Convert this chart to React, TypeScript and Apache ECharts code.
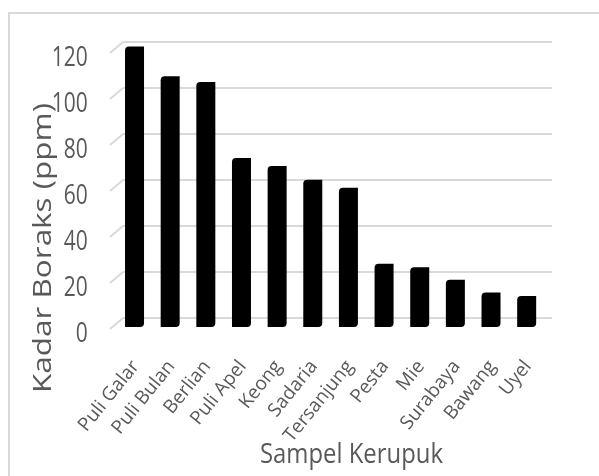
import React, { useEffect, useRef } from 'react';
import * as echarts from 'echarts';

const categories = ['Puli Galar', 'Puli Bulan', 'Berlian', 'Puli Apel', 'Keong', 'Sadaria', 'Tersanjung', 'Pesta', 'Mie', 'Surabaya', 'Bawang', 'Uyel'];
const values = [122, 109, 106.5, 73.5, 70, 64, 60.5, 27.5, 26, 20.5, 15, 13.5];
const yTicks = [0, 20, 40, 60, 80, 100, 120];
const yTitle = 'Kadar Boraks (ppm)';
const xTitle = 'Sampel Kerupuk';

function measure(text: string, font: string): number {
  const ctx = document.createElement('canvas').getContext('2d');
  if (!ctx) return 1;
  ctx.font = font;
  return ctx.measureText(text).width || 1;
}

export default function App() {
  const ref = useRef<HTMLDivElement>(null);
  useEffect(() => {
    if (!ref.current) return;
    const chart = echarts.init(ref.current, null, { renderer: 'svg' });
    const yFont = 26;
    const xFont = 27;
    const yScale = 290 / measure(yTitle, `${yFont}px "Open Sans"`);
    const xScale = 183 / measure(xTitle, `${xFont}px "Open Sans"`);
    chart.setOption({
      animation: false,
      grid: [
        { left: 123, right: 47, top: 42, height: 276 },
        { left: 116.7, right: 54.5, top: 51, height: 276 },
      ],
      xAxis: [
        { gridIndex: 0, type: 'value', min: 0, max: 1, show: false },
        {
          gridIndex: 1,
          type: 'category',
          data: categories,
          axisLine: { show: false },
          axisTick: { show: false },
          axisLabel: { interval: 0, rotate: 51, margin: 35, fontSize: 19, color: '#595959', fontFamily: '"Open Sans"' },
        },
      ],
      yAxis: [
        {
          gridIndex: 0, type: 'value', min: 0, max: 120, interval: 20,
          axisLabel: { show: false }, axisLine: { show: false }, axisTick: { show: false },
          splitLine: { show: true, lineStyle: { color: '#d9d9d9', width: 2 } },
        },
        {
          gridIndex: 1, type: 'value', min: 0, max: 120, interval: 20,
          splitLine: { show: false }, axisLine: { show: false }, axisTick: { show: false },
          axisLabel: { show: false },
        },
      ],
      series: [
        {
          type: 'custom',
          xAxisIndex: 0,
          yAxisIndex: 0,
          silent: true,
          data: yTicks.map((v) => [0, v]),
          renderItem: (params: any, api: any) => {
            const p = api.coord([0, api.value(1)]);
            return {
              type: 'line',
              shape: { x1: p[0] - 13, y1: p[1] + 11, x2: p[0], y2: p[1] },
              style: { stroke: '#d9d9d9', lineWidth: 2 },
            };
          },
        },
        {
          type: 'custom',
          xAxisIndex: 1,
          yAxisIndex: 1,
          silent: true,
          clip: false,
          data: yTicks.map((v) => [0, v]),
          renderItem: (params: any, api: any) => {
            const v = api.value(1);
            const p = api.coord([0, v]);
            const left = params.coordSys.x;
            return {
              type: 'text',
              x: left - 29,
              y: p[1] + 4.5,
              scaleX: 0.75,
              style: {
                text: String(v),
                fontSize: 28,
                fontFamily: '"Open Sans"',
                fill: '#595959',
                align: 'right',
                verticalAlign: 'middle',
              },
            };
          },
        },
        {
          type: 'bar',
          xAxisIndex: 1,
          yAxisIndex: 1,
          data: values,
          barWidth: 19,
          clip: false,
          itemStyle: { color: '#000000', borderRadius: [4, 0, 4, 0] },
        },
      ],
      graphic: [
        {
          type: 'rect', silent: true,
          shape: { x: 9, y: 13, width: 700, height: 600 },
          style: { fill: 'none', stroke: '#d9d9d9', lineWidth: 2 },
        },
        {
          type: 'text', x: 41, y: 248, rotation: Math.PI / 2, scaleX: yScale,
          style: { text: yTitle, fontSize: yFont, fontFamily: '"Open Sans"', fill: '#595959', align: 'center', verticalAlign: 'middle' },
        },
        {
          type: 'text', x: 351.5, y: 452, scaleX: xScale,
          style: { text: xTitle, fontSize: xFont, fontFamily: '"Open Sans"', fill: '#595959', align: 'center', verticalAlign: 'middle' },
        },
      ],
    });
    return () => chart.dispose();
  }, []);
  return <div ref={ref} style={{ position: 'fixed', left: 0, top: 0, width: 599, height: 476 }} />;
}
